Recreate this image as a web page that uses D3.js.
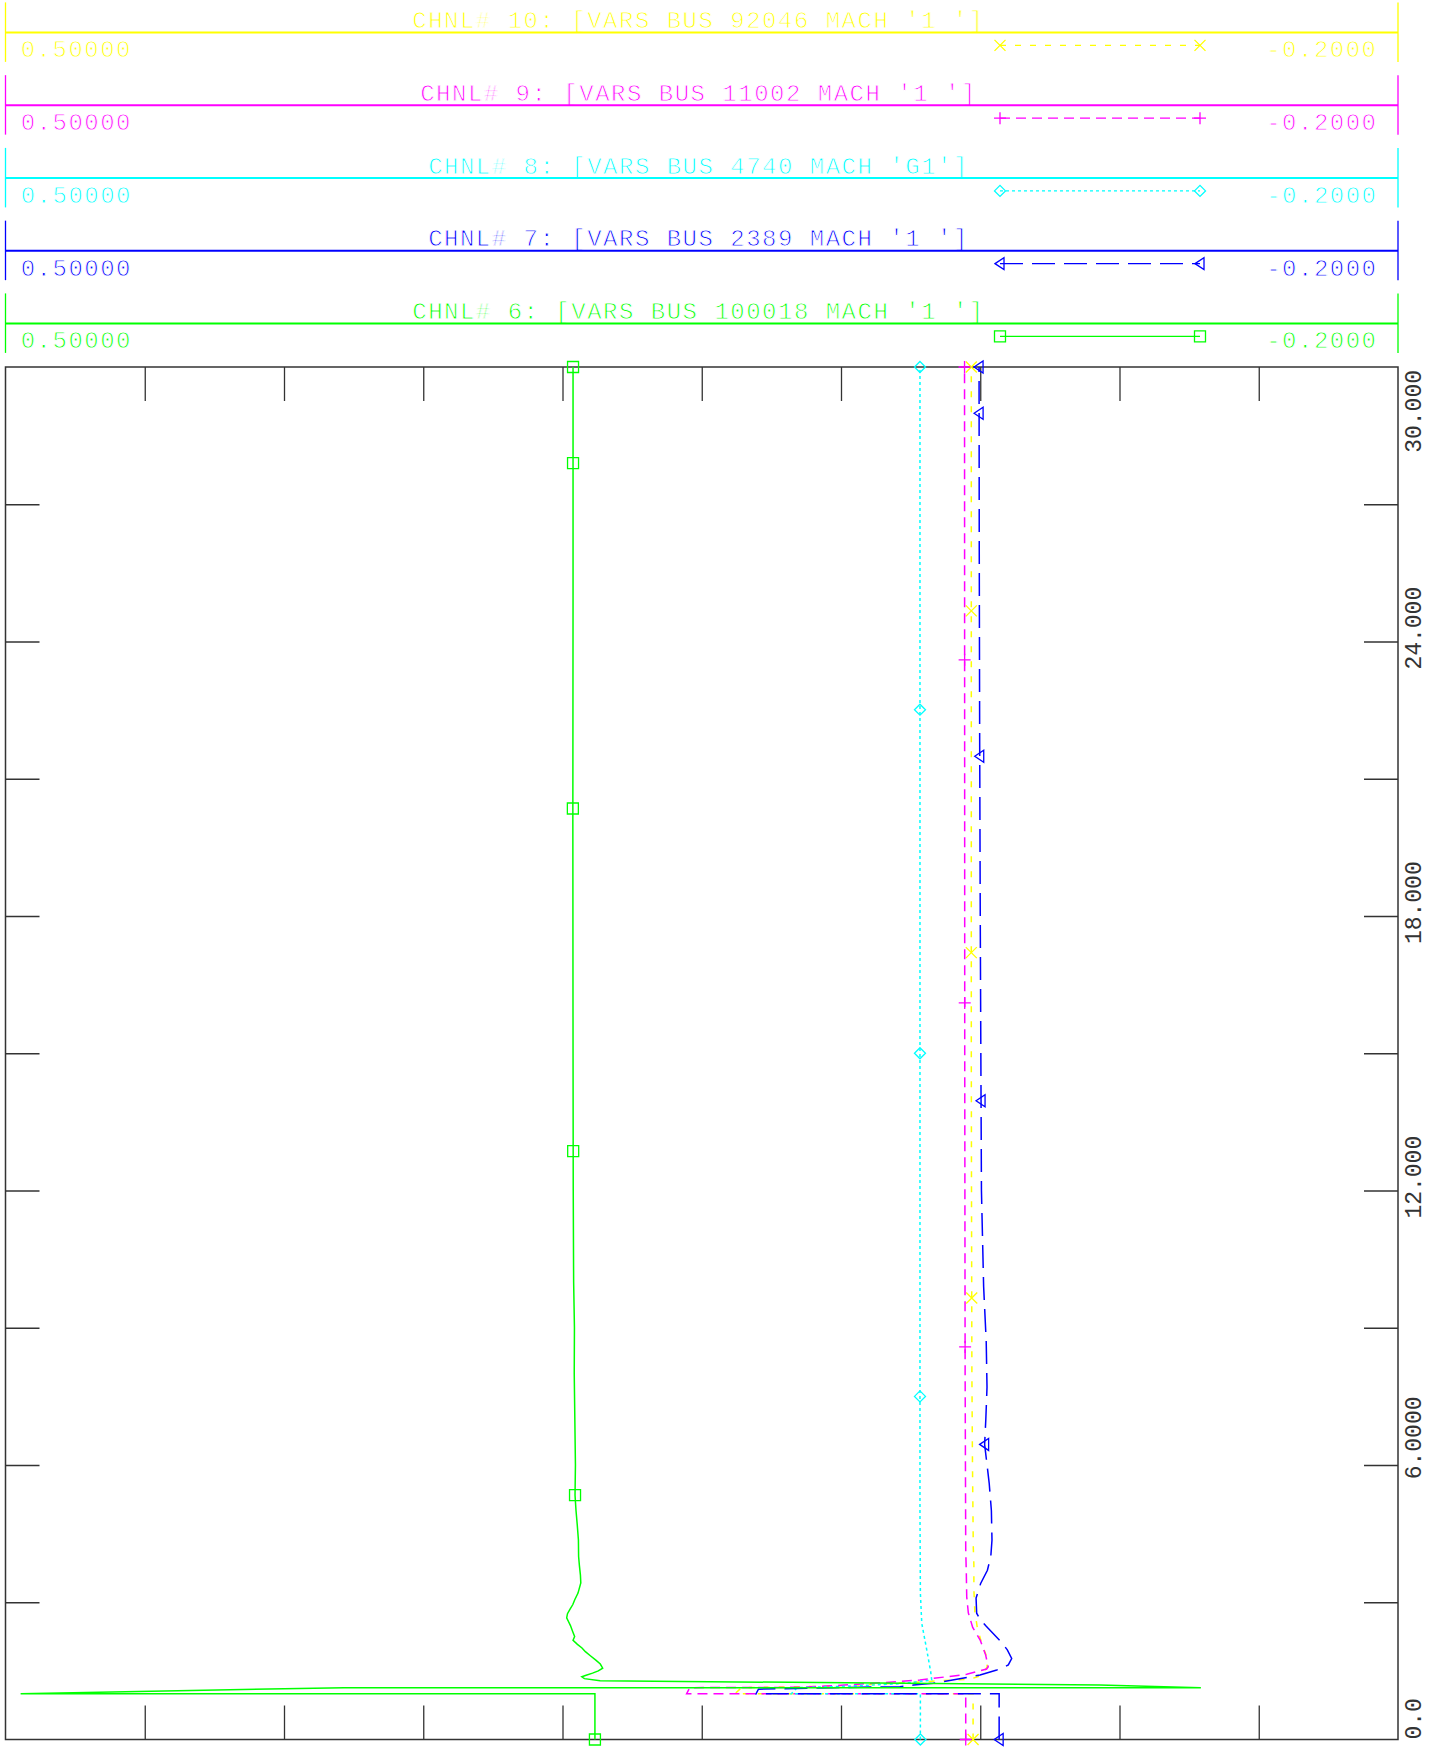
<!DOCTYPE html>
<html><head><meta charset="utf-8">
<script src="https://cdn.jsdelivr.net/npm/d3@7"></script>
<style>
body{margin:0;background:#fff}
svg{display:block}
text{font-family:"Liberation Mono","DejaVu Sans Mono",monospace}
text.thin{stroke:#fff;stroke-width:0.9px;paint-order:fill}
</style>
</head><body><svg id="c" width="1429" height="1754"></svg>
<script>
// ---------------- DATA ----------------
const channelNums = [10, 9, 8, 7, 6];
const busNums = ["92046", "11002", "4740", "2389", "100018"];
const machIds = ["1 ", "1 ", "G1", "1 ", "1 "];
const headerMaxLabel = "0.50000";
const headerMinLabel = "-0.2000";

const valueDomain = [0.5, -0.2];
const timeDomain = [0, 30];
const valueTicks = [0.43, 0.36, 0.29, 0.22, 0.15, 0.08, 0.01, -0.06, -0.13];
const timeTicks = [3, 6, 9, 12, 15, 18, 21, 24, 27];
const timeLabelVals = [0, 6, 12, 18, 24, 30];
const timeLabels = ["0.0", "6.0000", "12.000", "18.000", "24.000", "30.000"];

// CHNL 10 : VARS BUS 92046
const ch10Time = [0, 1.0, 1.0, 1.133, 1.16, 1.2, 1.26, 1.32, 1.40, 1.48, 1.59, 1.85, 2.1, 2.45, 2.79, 3.27, 3.81, 4.21, 6, 8, 12, 15, 20, 25, 30];
const ch10Val  = [0.0136, 0.0136, 0.1333, 0.1300, 0.090, 0.065, 0.040, 0.015, 0.0095, 0.0081, 0.0065, 0.0071, 0.0093, 0.0115, 0.0127, 0.0132, 0.0132, 0.0135, 0.0139, 0.0142, 0.0144, 0.0145, 0.0145, 0.0145, 0.0145];
const ch10Markers = [0, 9.65, 17.2, 24.67, 30];

// CHNL 9 : VARS BUS 11002
const ch9Time = [0, 1.0, 1.0, 1.133, 1.14, 1.176, 1.228, 1.30, 1.425, 1.54, 1.59, 1.85, 2.18, 2.45, 2.77, 3.12, 3.64, 4.14, 8, 15, 30];
const ch9Val  = [0.0173, 0.0173, 0.1576, 0.1560, 0.1006, 0.0840, 0.0639, 0.0403, 0.0168, 0.0068, 0.0060, 0.0073, 0.0101, 0.0138, 0.0160, 0.0168, 0.0170, 0.0173, 0.0176, 0.0178, 0.0179];
const ch9Markers = [0, 8.58, 16.1, 23.6, 30];

// CHNL 8 : VARS BUS 4740
const ch8Time = [0, 1.0, 1.0, 1.133, 1.16, 1.22, 1.30, 1.48, 1.96, 2.54, 3.2, 5, 30];
const ch8Val  = [0.0401, 0.0401, 0.1050, 0.1020, 0.0800, 0.0500, 0.0344, 0.0349, 0.0369, 0.0394, 0.0401, 0.0403, 0.0403];
const ch8Markers = [0, 7.5, 15.0, 22.51, 30];

// CHNL 7 : VARS BUS 2389
const ch7Time = [0, 1.0, 1.0, 1.10, 1.133, 1.154, 1.19, 1.228, 1.316, 1.41, 1.52, 1.57, 1.63, 1.77, 1.96, 2.14, 2.48, 2.63, 2.76, 3.09, 3.41, 3.7, 4.0, 4.36, 5.0, 5.6, 6.45, 7.0, 7.7, 8.7, 9.9, 12, 14, 18, 22, 26, 30];
const ch7Val  = [0.0005, 0.0005, 0.1227, 0.1215, 0.0840, 0.0504, 0.0436, 0.0336, 0.0218, 0.0101, 0.0017, -0.0016, -0.0041, -0.0058, -0.0036, -0.0004, 0.0071, 0.0101, 0.0118, 0.0121, 0.0098, 0.0064, 0.0047, 0.0041, 0.0044, 0.0055, 0.0078, 0.0072, 0.0066, 0.0070, 0.0083, 0.0094, 0.0096, 0.0100, 0.0103, 0.0105, 0.0106];
const ch7Markers = [0, 6.45, 13.96, 21.49, 28.99, 30];

// CHNL 6 : VARS BUS 100018
const ch6Time = [0, 1.0, 1.0, 1.133, 1.133, 1.19, 1.285, 1.33, 1.37, 1.40, 1.45, 1.50, 1.56, 1.65, 1.74, 1.83, 1.92, 2.0, 2.08, 2.17, 2.25, 2.35, 2.49, 2.58, 2.66, 2.75, 2.85, 2.95, 3.05, 3.2, 3.42, 3.6, 3.8, 4.0, 4.36, 4.7, 5.0, 5.34, 6.0, 7.0, 8.0, 9.0, 10, 12, 15, 20, 25, 30];
const ch6Val  = [0.2037, 0.2037, 0.4924, 0.3298, -0.1009, -0.0500, 0.2011, 0.2090, 0.2103, 0.2085, 0.2049, 0.2020, 0.1998, 0.2010, 0.2034, 0.2060, 0.2085, 0.2102, 0.2125, 0.2147, 0.2139, 0.2148, 0.2160, 0.2170, 0.2179, 0.2175, 0.2162, 0.2148, 0.2139, 0.2122, 0.2108, 0.2110, 0.2115, 0.2119, 0.2120, 0.2126, 0.2132, 0.2137, 0.2135, 0.2138, 0.2141, 0.2140, 0.2144, 0.2146, 0.2147, 0.2148, 0.2147, 0.2147];
const ch6Markers = [0, 5.34, 12.86, 20.35, 27.9, 30];

// ---------------- STYLES ----------------
const colors = ["#ffff00", "#ff00ff", "#00ffff", "#0000ff", "#00ff00"];
const dashes = ["6,9", "10,6", "3,3", "23,9", null];
const markerKinds = ["x", "plus", "diamond", "triangle", "square"];
const seriesTime = [ch10Time, ch9Time, ch8Time, ch7Time, ch6Time];
const seriesVal = [ch10Val, ch9Val, ch8Val, ch7Val, ch6Val];
const seriesMarkers = [ch10Markers, ch9Markers, ch8Markers, ch7Markers, ch6Markers];

// ---------------- LAYOUT ----------------
const L = 5.5, R = 1398, T = 367, B = 1739.5;
const svg = d3.select("#c");
const x = d3.scaleLinear().domain(valueDomain).range([L, R]);
const y = d3.scaleLinear().domain(timeDomain).range([B, T]);

function markerPath(kind, cx, cy) {
  if (kind === "square") return `M${cx-5.5},${cy-5.5}h11v11h-11z`;
  if (kind === "diamond") return `M${cx},${cy-5.5}L${cx+5.5},${cy}L${cx},${cy+5.5}L${cx-5.5},${cy}z`;
  if (kind === "triangle") return `M${cx-5},${cy}L${cx+4},${cy-6}L${cx+4},${cy+6}z`;
  if (kind === "x") return `M${cx-5.5},${cy-5.5}L${cx+5.5},${cy+5.5}M${cx-5.5},${cy+5.5}L${cx+5.5},${cy-5.5}`;
  return `M${cx-6},${cy}h12M${cx},${cy-6}v12`;
}

// ---------------- HEADER PANELS ----------------
channelNums.forEach((ch, k) => {
  const ly = 32.4 + 72.75 * k;
  const g = svg.append("g");
  const c = colors[k];
  g.append("text").attr("class", "thin").attr("x", 698.5).attr("y", ly - 4.2).attr("text-anchor", "middle")
    .attr("font-size", 24).attr("letter-spacing", 1.5).attr("fill", c)
    .text(`CHNL# ${ch}: [VARS BUS ${busNums[k]} MACH '${machIds[k]}']`);
  g.append("text").attr("class", "thin").attr("x", 20.7).attr("y", ly + 24.9)
    .attr("font-size", 24).attr("letter-spacing", 1.5).attr("fill", c).text(headerMaxLabel);
  g.append("text").attr("class", "thin").attr("x", 1377.5).attr("y", ly + 24.9).attr("text-anchor", "end")
    .attr("font-size", 24).attr("letter-spacing", 1.5).attr("fill", c).text(headerMinLabel);
  g.append("line").attr("x1", L).attr("x2", R).attr("y1", ly).attr("y2", ly)
    .attr("stroke", c).attr("stroke-width", 2);
  [L, R].forEach(xx => g.append("line").attr("x1", xx).attr("x2", xx)
    .attr("y1", Math.max(0, ly - 30)).attr("y2", ly + 29.5).attr("stroke", c).attr("stroke-width", 1.3));
  const my = ly + 13;
  g.append("line").attr("x1", 1000).attr("x2", 1200).attr("y1", my).attr("y2", my)
    .attr("stroke", c).attr("stroke-width", 1.3).attr("stroke-dasharray", dashes[k]);
  [1000, 1200].forEach(mx => g.append("path").attr("d", markerPath(markerKinds[k], mx, my))
    .attr("fill", "none").attr("stroke", c).attr("stroke-width", 1.3));
});

// ---------------- AXES / FRAME ----------------
const axCol = "#333";
function styleAxis(sel) {
  sel.select(".domain").remove();
  sel.selectAll(".tick line").attr("stroke", axCol).attr("stroke-width", 1.3);
  sel.selectAll(".tick text").remove();
}
svg.append("g").attr("transform", `translate(0,${T})`)
  .call(d3.axisBottom(x).tickValues(valueTicks).tickSize(34)).call(styleAxis);
svg.append("g").attr("transform", `translate(0,${B})`)
  .call(d3.axisTop(x).tickValues(valueTicks).tickSize(34)).call(styleAxis);
svg.append("g").attr("transform", `translate(${L},0)`)
  .call(d3.axisRight(y).tickValues(timeTicks).tickSize(34)).call(styleAxis);
svg.append("g").attr("transform", `translate(${R},0)`)
  .call(d3.axisLeft(y).tickValues(timeTicks).tickSize(34)).call(styleAxis);
svg.append("rect").attr("x", L).attr("y", T).attr("width", R - L).attr("height", B - T)
  .attr("fill", "none").attr("stroke", axCol).attr("stroke-width", 1.5);

// rotated time labels on right
const labAdv = 13.8;
timeLabelVals.forEach((tv, i) => {
  const s = timeLabels[i];
  const ty = y(tv);
  const nBefore = s.indexOf(".");
  const t = svg.append("text").attr("font-size", 23).attr("fill", "#333");
  let py, anchor = "start";
  if (i === 0) { py = B; }
  else if (i === timeLabelVals.length - 1) { py = T + 3; anchor = "end"; }
  else { py = ty + nBefore * labAdv + 0.5; }
  t.attr("text-anchor", anchor)
    .attr("transform", `translate(1421,${py}) rotate(-90)`)
    .text(s);
});

// ---------------- SERIES ----------------
const line = d3.line().x(d => x(d[1])).y(d => y(d[0]));
seriesTime.forEach((ts, k) => {
  const pts = ts.map((t, i) => [t, seriesVal[k][i]]);
  svg.append("path").attr("d", line(pts)).attr("fill", "none")
    .attr("stroke", colors[k]).attr("stroke-width", 1.5)
    .attr("stroke-dasharray", dashes[k]);
  seriesMarkers[k].forEach(mt => {
    let v = pts[pts.length - 1][1];
    for (let i = 0; i < pts.length - 1; i++) {
      const a = pts[i], b = pts[i + 1];
      if (mt >= a[0] && mt <= b[0] && b[0] > a[0]) {
        v = a[1] + (b[1] - a[1]) * (mt - a[0]) / (b[0] - a[0]);
      }
    }
    if (mt === 0) v = pts[0][1];
    svg.append("path").attr("d", markerPath(markerKinds[k], x(v), y(mt)))
      .attr("fill", "none").attr("stroke", colors[k]).attr("stroke-width", 1.3);
  });
});
</script></body></html>
